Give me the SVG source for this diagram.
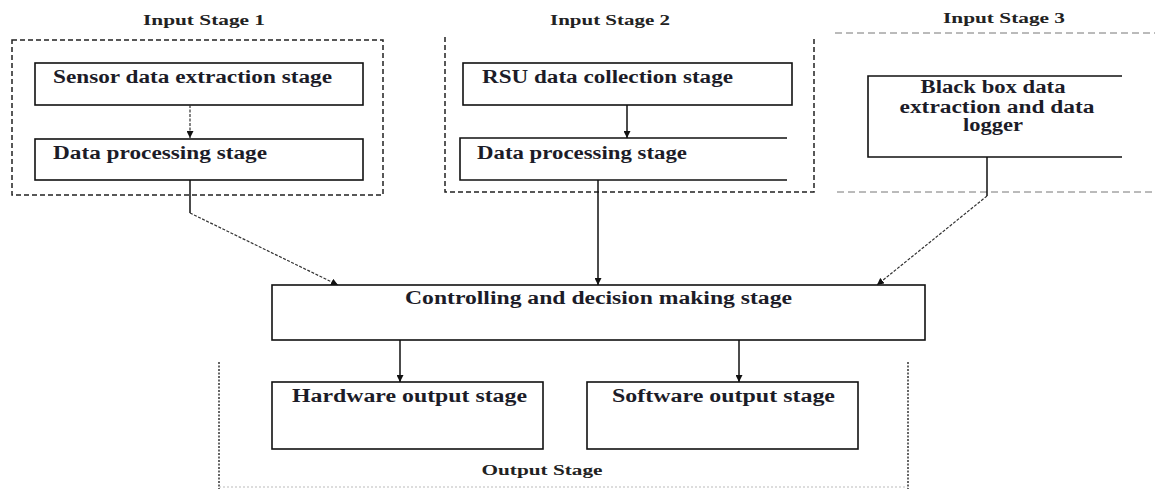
<svg xmlns="http://www.w3.org/2000/svg" width="1155" height="489" viewBox="0 0 1155 489">
<defs>
<marker id="ah" viewBox="0 0 10 10" refX="10" refY="5" markerWidth="7" markerHeight="7" markerUnits="userSpaceOnUse" orient="auto"><path d="M0,0 L10,5 L0,10 z" fill="#111"/></marker>
<style>
.box{fill:#fff;stroke:#111;stroke-width:1.6}
.edge{fill:none;stroke:#111;stroke-width:1.6}
.t{font-family:"Liberation Serif","Times New Roman",serif;font-weight:bold;font-size:18px;fill:#1c1c28}
.title{font-family:"Liberation Serif","Times New Roman",serif;font-weight:bold;font-size:14px;fill:#222}
.grp{fill:none;stroke:#222;stroke-width:1.5;stroke-dasharray:5,3}
.grp3{fill:none;stroke:#777;stroke-width:1;stroke-dasharray:7,4}
.dot{fill:none;stroke:#333;stroke-width:1.5;stroke-dasharray:2,1.5}
.conn{fill:none;stroke:#111;stroke-width:1.5}
.dconn{fill:none;stroke:#333;stroke-width:1.2;stroke-dasharray:3,1.5}
</style>
</defs>
<rect width="1155" height="489" fill="#fff"/>

<g id="input-stage-1">
<text class="title" x="204" y="25" text-anchor="middle" textLength="122" lengthAdjust="spacingAndGlyphs">Input Stage 1</text>
<rect class="grp" x="12" y="40" width="371" height="155"/>
</g>
<g id="input-stage-2">
<text class="title" x="610" y="25" text-anchor="middle" textLength="120" lengthAdjust="spacingAndGlyphs">Input Stage 2</text>
<path class="grp" d="M445,37 V192 H814 V37"/>
</g>
<g id="input-stage-3">
<text class="title" x="1004" y="23" text-anchor="middle" textLength="122" lengthAdjust="spacingAndGlyphs">Input Stage 3</text>
<path class="grp3" d="M835,33 H1155 M837,192 H1155"/>
</g>
<g id="output-stage">
<path class="dot" d="M219,362 V489 M908,362 V489"/>
<path d="M219,487 H908" fill="none" stroke="#bbb" stroke-width="1" stroke-dasharray="2,2"/>
<text class="title" x="542" y="475" text-anchor="middle" textLength="121" lengthAdjust="spacingAndGlyphs">Output Stage</text>
</g>

<g id="sensor">
<rect class="box" x="35" y="63" width="328" height="42"/>
<text class="t" x="53" y="83" textLength="279" lengthAdjust="spacingAndGlyphs">Sensor data extraction stage</text>
</g>
<g id="dp1">
<rect class="box" x="35" y="139" width="328" height="41"/>
<text class="t" x="53" y="159" textLength="214" lengthAdjust="spacingAndGlyphs">Data processing stage</text>
</g>
<g id="rsu">
<rect class="box" x="463" y="63" width="329" height="42"/>
<text class="t" x="482" y="83" textLength="251" lengthAdjust="spacingAndGlyphs">RSU data collection stage</text>
</g>
<g id="dp2">
<path class="edge" d="M787,138 H460 V180 H787"/>
<text class="t" x="477" y="159" textLength="210" lengthAdjust="spacingAndGlyphs">Data processing stage</text>
</g>
<g id="blackbox">
<path class="edge" d="M1122,76 H868 V157 H1122"/>
<text class="t" x="993" y="93" text-anchor="middle" textLength="145" lengthAdjust="spacingAndGlyphs">Black box data</text>
<text class="t" x="997" y="113" text-anchor="middle" textLength="195" lengthAdjust="spacingAndGlyphs">extraction and data</text>
<text class="t" x="993" y="131" text-anchor="middle" textLength="60" lengthAdjust="spacingAndGlyphs">logger</text>
</g>
<g id="control">
<rect class="box" x="272" y="285" width="653" height="55"/>
<text class="t" x="405" y="304" textLength="387" lengthAdjust="spacingAndGlyphs">Controlling and decision making stage</text>
</g>
<g id="hardware">
<rect class="box" x="272" y="382" width="271" height="67"/>
<text class="t" x="292" y="402" textLength="235" lengthAdjust="spacingAndGlyphs">Hardware output stage</text>
</g>
<g id="software">
<rect class="box" x="587" y="382" width="271" height="67"/>
<text class="t" x="612" y="402" textLength="223" lengthAdjust="spacingAndGlyphs">Software output stage</text>
</g>

<g id="connectors">
<path class="dconn" d="M190,105 V138" stroke="#888" marker-end="url(#ah)"/>
<path class="conn" d="M627,105 V138" marker-end="url(#ah)"/>
<path class="conn" d="M190,180 V213"/>
<path class="dconn" d="M190,213 L338,285" marker-end="url(#ah)"/>
<path class="conn" d="M598,180 V285" marker-end="url(#ah)"/>
<path class="conn" d="M987,157 V196"/>
<path class="dconn" d="M987,196 L877,285" marker-end="url(#ah)"/>
<path class="conn" d="M400,340 V382" marker-end="url(#ah)"/>
<path class="conn" d="M739,340 V382" marker-end="url(#ah)"/>
</g>
</svg>
